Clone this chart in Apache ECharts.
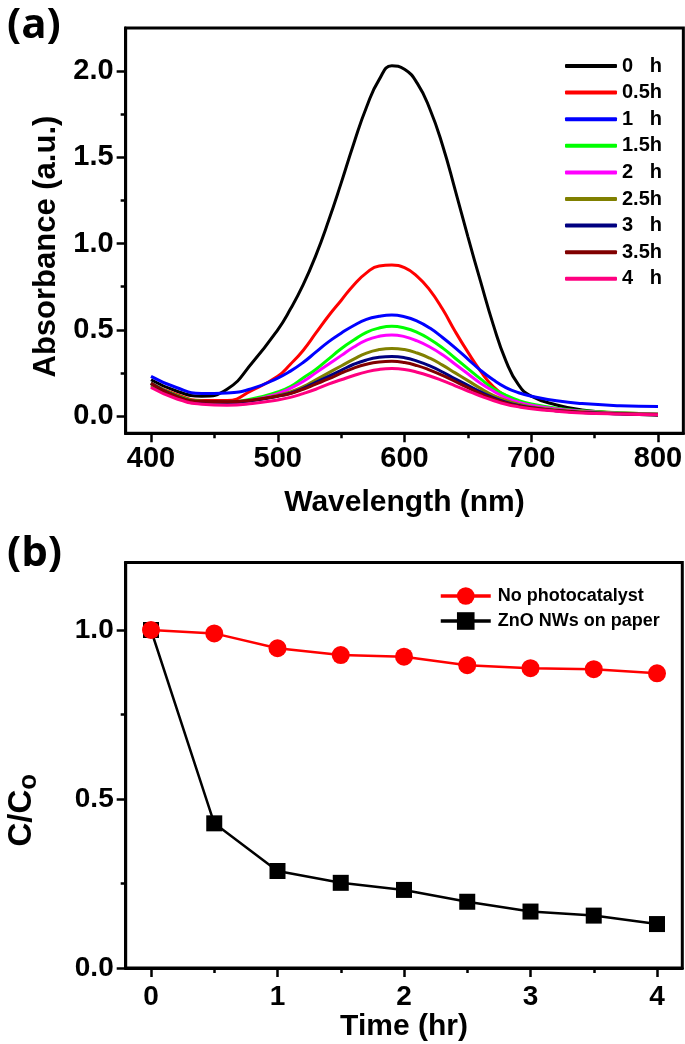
<!DOCTYPE html>
<html><head><meta charset="utf-8">
<script src="https://cdn.jsdelivr.net/npm/echarts@6/dist/echarts.min.js"></script>
<style>html,body{margin:0;padding:0;background:#fff}#c{width:685px;height:1044px}</style>
</head><body><div id="c"></div>
<script>
// ---------- Panel (a) data ----------
const wavelength = [400,420,440,460,480,500,510,520,530,540,550,560,570,580,590,600,610,620,630,640,650,660,670,680,690,700,720,740,770,800];
const abs0h  = [0.21,0.145,0.115,0.155,0.31,0.50,0.62,0.76,0.93,1.13,1.35,1.58,1.79,1.95,2.03,2.01,1.93,1.78,1.57,1.31,1.04,0.78,0.53,0.32,0.18,0.115,0.064,0.035,0.014,0.005];
const abs05h = [0.19,0.125,0.09,0.09,0.15,0.23,0.30,0.38,0.48,0.58,0.67,0.76,0.83,0.87,0.875,0.86,0.81,0.73,0.62,0.49,0.37,0.26,0.17,0.115,0.08,0.06,0.04,0.028,0.018,0.012];
const abs1h  = [0.23,0.165,0.13,0.133,0.16,0.22,0.26,0.31,0.37,0.43,0.48,0.525,0.56,0.578,0.585,0.575,0.55,0.51,0.455,0.395,0.33,0.265,0.21,0.165,0.135,0.115,0.088,0.072,0.06,0.055];
const abs15h = [0.19,0.12,0.085,0.08,0.10,0.14,0.17,0.22,0.27,0.33,0.39,0.44,0.485,0.51,0.52,0.51,0.485,0.445,0.395,0.335,0.275,0.215,0.16,0.12,0.09,0.07,0.045,0.03,0.019,0.012];
const abs2h  = [0.17,0.11,0.078,0.075,0.092,0.13,0.16,0.20,0.25,0.30,0.35,0.40,0.44,0.462,0.47,0.46,0.435,0.40,0.355,0.30,0.245,0.19,0.145,0.105,0.08,0.062,0.04,0.027,0.016,0.01];
const abs25h = [0.18,0.11,0.08,0.078,0.09,0.12,0.14,0.17,0.21,0.25,0.29,0.33,0.365,0.385,0.392,0.385,0.365,0.335,0.295,0.25,0.205,0.16,0.12,0.09,0.068,0.053,0.035,0.024,0.014,0.009];
const abs3h  = [0.19,0.115,0.082,0.08,0.09,0.115,0.132,0.16,0.195,0.23,0.265,0.30,0.325,0.34,0.345,0.338,0.318,0.29,0.255,0.215,0.178,0.14,0.106,0.08,0.061,0.048,0.031,0.021,0.012,0.008];
const abs35h = [0.19,0.115,0.085,0.083,0.093,0.115,0.13,0.155,0.185,0.215,0.248,0.278,0.3,0.313,0.317,0.31,0.292,0.266,0.235,0.2,0.165,0.13,0.1,0.076,0.058,0.046,0.031,0.021,0.013,0.008];
const abs4h  = [0.165,0.10,0.068,0.062,0.072,0.093,0.108,0.13,0.155,0.185,0.21,0.235,0.256,0.27,0.275,0.27,0.254,0.232,0.205,0.175,0.145,0.116,0.09,0.068,0.053,0.042,0.028,0.018,0.011,0.007];
const spectraNames = ['0   h','0.5h','1   h','1.5h','2   h','2.5h','3   h','3.5h','4   h'];
const spectraColors = ['#000000','#ff0000','#0000ff','#00ff00','#ff00ff','#808000','#000080','#800000','#ff0080'];
const xTicksA = [400,500,600,700,800];
const xMinorA = [450,550,650,750];
const yTicksA = [0,0.5,1.0,1.5,2.0];
const yMinorA = [0.25,0.75,1.25,1.75];

// ---------- Panel (b) data ----------
const timeHr = [0,0.5,1,1.5,2,2.5,3,3.5,4];
const noCatalyst = [1.0,0.99,0.946,0.926,0.921,0.896,0.887,0.884,0.872];
const znoPaper = [1.0,0.428,0.287,0.252,0.231,0.196,0.167,0.155,0.130];
const xTicksB = [0,1,2,3,4];
const xMinorB = [0.5,1.5,2.5,3.5];
const yTicksB = [0,0.5,1.0];
const yMinorB = [0.25,0.75];

const FF = '"Liberation Sans", Arial, sans-serif';
const spectra = [abs0h,abs05h,abs1h,abs15h,abs2h,abs25h,abs3h,abs35h,abs4h];

function mainAxis(grid, min, max, ticks, fmt, margin, fs, extra) {
  return Object.assign({
    gridIndex: grid, type: 'value', min: min, max: max,
    axisLine: {show: true, onZero: false, lineStyle: {color: '#000', width: 3}},
    axisTick: {show: true, inside: false, length: 9, customValues: ticks, lineStyle: {color: '#000', width: 2.5}},
    axisLabel: {show: true, customValues: ticks, formatter: fmt, margin: margin, fontSize: fs, fontWeight: 'bold', color: '#000', fontFamily: FF},
    splitLine: {show: false}
  }, extra || {});
}
function minorAxis(grid, min, max, ticks, pos) {
  return {
    gridIndex: grid, type: 'value', min: min, max: max, position: pos,
    axisLine: {show: false, onZero: false},
    axisTick: {show: true, inside: false, length: 5, customValues: ticks, lineStyle: {color: '#000', width: 2.5}},
    axisLabel: {show: false}, splitLine: {show: false}
  };
}
const nameStyle = {fontSize: 30, fontWeight: 'bold', color: '#000', fontFamily: FF};

const series = spectra.map((arr, i) => ({
  name: spectraNames[i], type: 'line', xAxisIndex: 0, yAxisIndex: 0,
  smooth: 0.5, symbol: 'none', data: wavelength.map((w, j) => [w, arr[j]]),
  lineStyle: {color: spectraColors[i], width: 3}, itemStyle: {color: spectraColors[i]}
}));
series.push({
  name: 'ZnO NWs on paper', type: 'line', xAxisIndex: 2, yAxisIndex: 2,
  symbol: 'rect', symbolSize: 16, data: timeHr.map((t, j) => [t, znoPaper[j]]),
  lineStyle: {color: '#000', width: 2.5}, itemStyle: {color: '#000'}
});
series.push({
  name: 'No photocatalyst', type: 'line', xAxisIndex: 2, yAxisIndex: 2,
  symbol: 'circle', symbolSize: 18, data: timeHr.map((t, j) => [t, noCatalyst[j]]),
  lineStyle: {color: '#ff0000', width: 2.5}, itemStyle: {color: '#ff0000'}
});

const option = {
  animation: false,
  backgroundColor: '#fff',
  title: [
    {text: '(a)', left: 2, top: 0, textStyle: {fontSize: 42, fontWeight: 'bold', color: '#000', fontFamily: '"Open Sans", sans-serif'}},
    {text: '(b)', left: 2, top: 528, textStyle: {fontSize: 42, fontWeight: 'bold', color: '#000', fontFamily: '"Open Sans", sans-serif'}}
  ],
  grid: [
    {left: 125.65, width: 557.7, top: 27.9, height: 405.35, show: true, borderColor: '#000', borderWidth: 3, containLabel: false, outerBoundsMode: 'none'},
    {left: 125.7, width: 556.6, top: 562.4, height: 405.6, show: true, borderColor: '#000', borderWidth: 3, containLabel: false, outerBoundsMode: 'none'}
  ],
  xAxis: [
    mainAxis(0, 380, 820, xTicksA, v => String(v), 11, 29, {position: 'bottom', name: 'Wavelength (nm)', nameLocation: 'middle', nameGap: 54, nameTextStyle: nameStyle}),
    minorAxis(0, 380, 820, xMinorA, 'bottom'),
    mainAxis(1, -0.2, 4.2, xTicksB, v => String(v), 15, 28, {position: 'bottom', name: 'Time (hr)', nameLocation: 'middle', nameGap: 43, nameTextStyle: nameStyle}),
    minorAxis(1, -0.2, 4.2, xMinorB, 'bottom')
  ],
  yAxis: [
    mainAxis(0, -0.1, 2.25, yTicksA, v => v.toFixed(1), 12, 29, {position: 'left', name: 'Absorbance (a.u.)', nameLocation: 'middle', nameGap: 62, nameTextStyle: Object.assign({}, nameStyle, {fontSize: 31, padding: [0, 32, 0, 0]})}),
    minorAxis(0, -0.1, 2.25, yMinorA, 'left'),
    mainAxis(1, 0, 1.2, yTicksB, v => v.toFixed(1), 12, 28, {position: 'left', name: '{m|C/C}{s|o}', nameLocation: 'middle', nameGap: 84,
      nameTextStyle: {padding: [0, 90, 0, 0], rich: {
        m: {fontSize: 33, fontWeight: 'bold', color: '#000', fontFamily: FF, lineHeight: 36, verticalAlign: 'top'},
        s: {fontSize: 26, fontWeight: 'bold', color: '#000', fontFamily: FF, lineHeight: 26, verticalAlign: 'bottom', padding: [12, 0, 0, 0]}
      }}}),
    minorAxis(1, 0, 1.2, yMinorB, 'left')
  ],
  legend: [
    {data: spectraNames, orient: 'vertical', left: 560, top: 51, itemWidth: 52, itemHeight: 4, icon: 'roundRect', itemGap: 6.6,
     selectedMode: false, textStyle: {fontSize: 20, fontWeight: 'bold', color: '#000', fontFamily: FF, lineHeight: 20}},
    {data: ['No photocatalyst', 'ZnO NWs on paper'], orient: 'vertical', left: 434, top: 580, itemWidth: 50, itemHeight: 22, itemGap: 3,
     selectedMode: false, lineStyle: {width: 3.5}, itemStyle: {borderWidth: 0},
     textStyle: {fontSize: 18, fontWeight: 'bold', color: '#000', fontFamily: FF, lineHeight: 22, padding: [0, 0, 0, 2]}}
  ],
  series: series
};
const chart = echarts.init(document.getElementById('c'), null, {renderer: 'canvas'});
chart.setOption(option);
</script></body></html>
